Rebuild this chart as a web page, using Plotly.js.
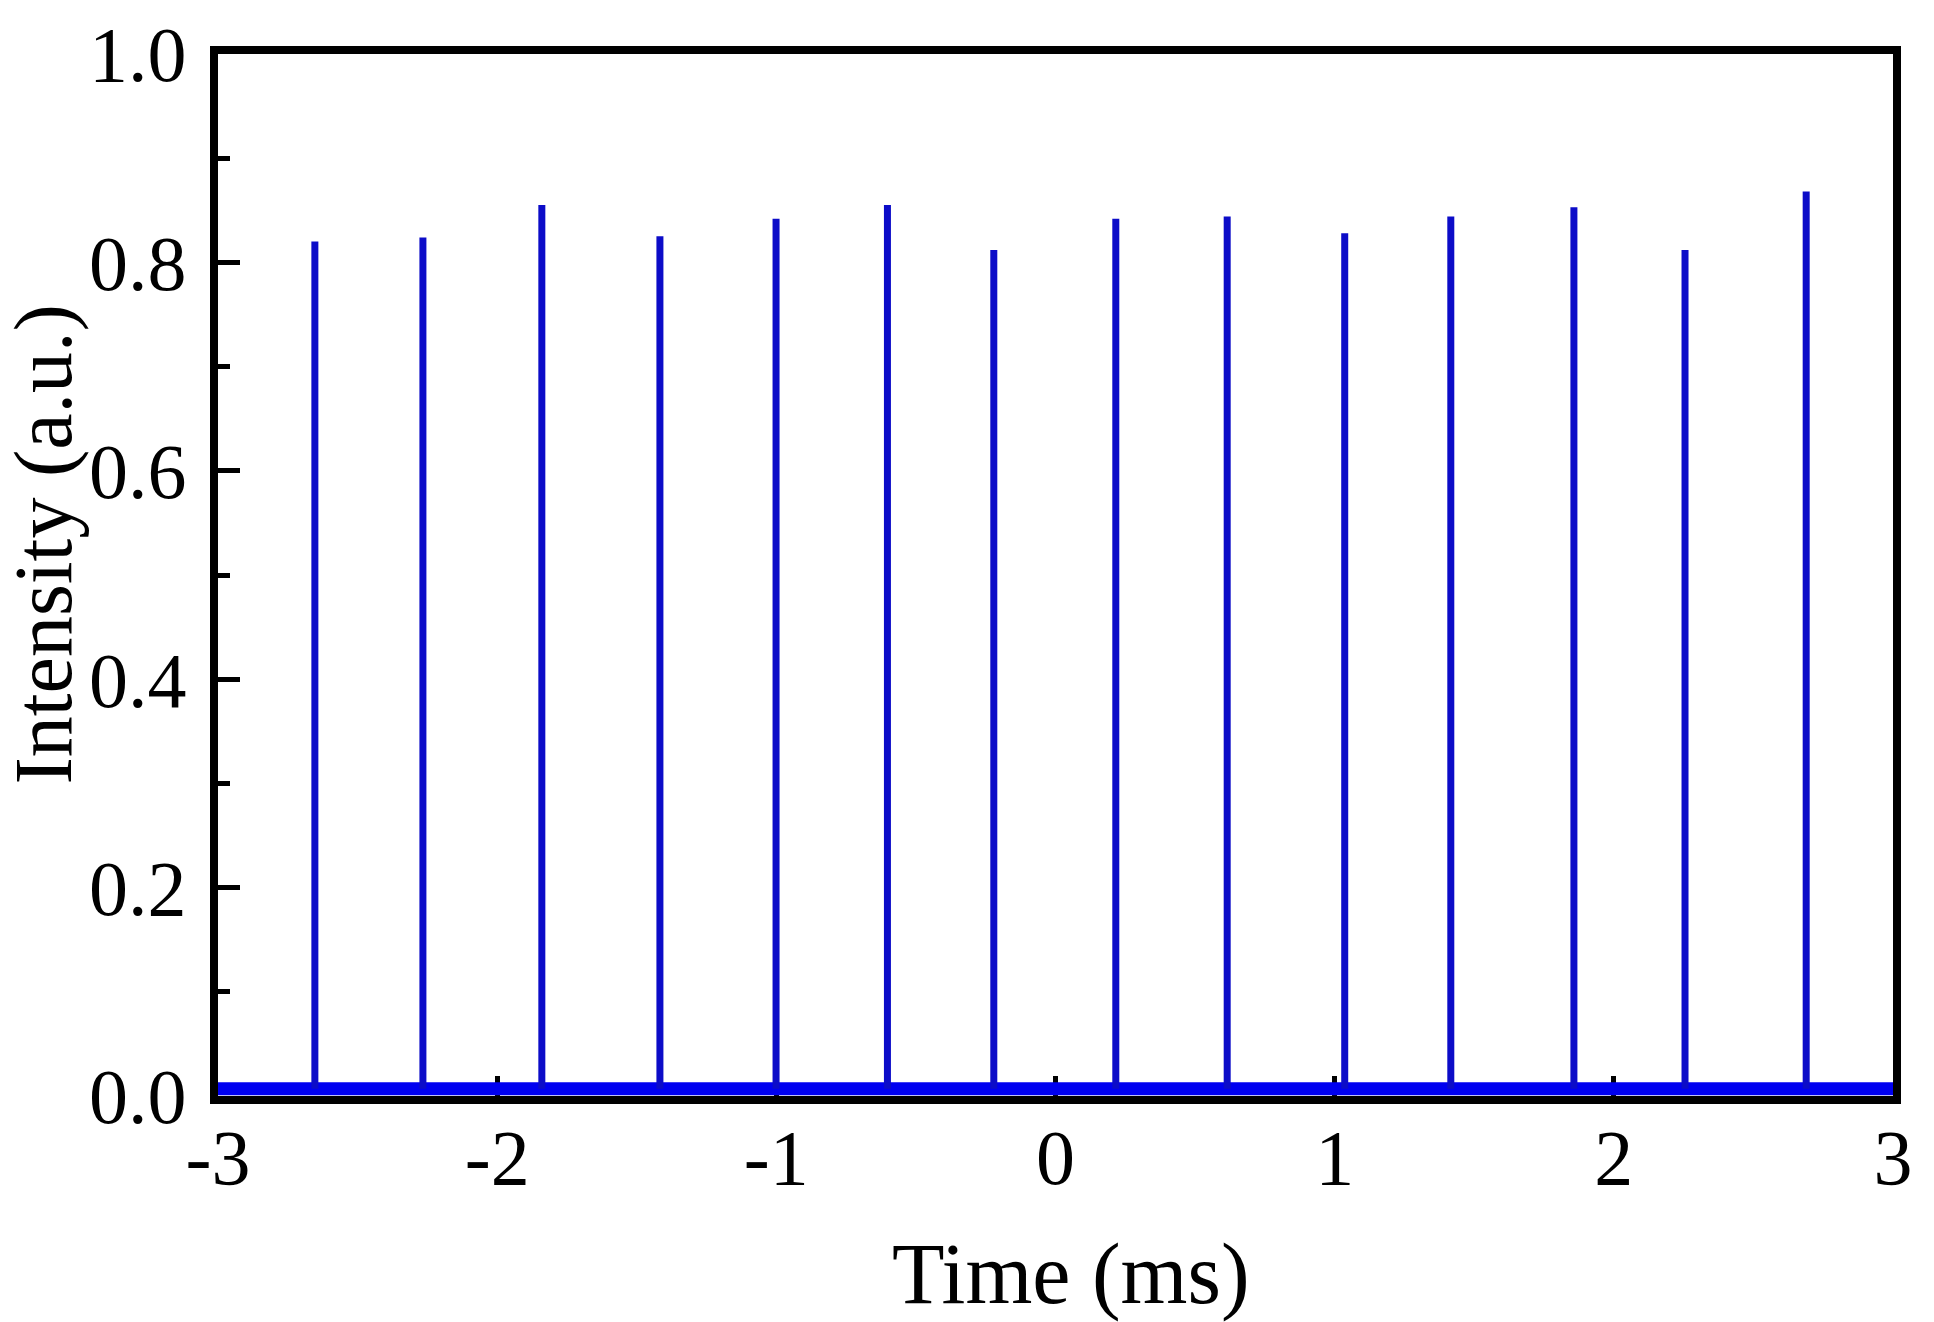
<!DOCTYPE html>
<html>
<head>
<meta charset="utf-8">
<script src="https://cdn.plot.ly/plotly-3.0.1.min.js"></script>
<style>
  html, body { margin: 0; padding: 0; background: #fff; }
  #chart { width: 1934px; height: 1322px; }
</style>
</head>
<body>
<div id="chart"></div>
<script>
// pulse train (time in ms, intensity in a.u.)
const pulseTimes = [-2.653, -2.266, -1.840, -1.417, -1.001, -0.602, -0.221,
                    0.216, 0.615, 1.036, 1.416, 1.857, 2.255, 2.689];
const pulseHeights = [0.820, 0.824, 0.855, 0.825, 0.842, 0.855, 0.812,
                      0.842, 0.844, 0.828, 0.844, 0.853, 0.812, 0.868];
const baseLevel = 0.007;
const timeRange = [-3, 3];
const xTickVals = [-3, -2, -1, 0, 1, 2, 3];
const xTickText = ['-3', '-2', '-1', '0', '1', '2', '3'];
const yTickVals = [0, 0.2, 0.4, 0.6, 0.8, 1.0];
const yTickText = ['0.0', '0.2', '0.4', '0.6', '0.8', '1.0'];
const xTitle = 'Time (ms)';
const yTitle = 'Intensity (a.u.)';

// each pulse is a vertical stroke from the baseline to its peak
const spikeX = [];
const spikeY = [];
pulseTimes.forEach((t, i) => {
    spikeX.push(t, t, null);
    spikeY.push(baseLevel, pulseHeights[i], null);
});

const baseline = {
    x: timeRange,
    y: [baseLevel, baseLevel],
    mode: 'lines',
    line: { color: '#0000f0', width: 13 },
    hoverinfo: 'skip',
    showlegend: false
};

const spikes = {
    x: spikeX,
    y: spikeY,
    mode: 'lines',
    line: { color: '#0c0cc8', width: 7 },
    connectgaps: false,
    showlegend: false
};

const family = '"Liberation Serif", "Times New Roman", serif';
const tickFont = { family: family, size: 78, color: '#000' };
const titleFont = { family: family, size: 86, color: '#000' };

const layout = {
    width: 1934,
    height: 1322,
    margin: { l: 218, r: 41, t: 54, b: 226 },
    paper_bgcolor: '#fff',
    plot_bgcolor: '#fff',
    font: { family: family, color: '#000' },
    showlegend: false,
    xaxis: {
        range: timeRange,
        tickvals: xTickVals,
        ticktext: xTickText,
        ticks: 'inside',
        ticklen: 20,
        tickwidth: 5,
        tickcolor: '#000',
        ticklabelstandoff: -14,
        tickfont: tickFont,
        showline: true,
        linewidth: 8,
        linecolor: '#000',
        mirror: true,
        showgrid: false,
        zeroline: false,
        layer: 'below traces'
    },
    yaxis: {
        range: [0, 1],
        tickvals: yTickVals,
        ticktext: yTickText,
        ticks: 'inside',
        ticklen: 22,
        tickwidth: 5,
        tickcolor: '#000',
        ticklabelstandoff: 8,
        tickfont: tickFont,
        minor: { dtick: 0.1, ticks: 'inside', ticklen: 12, tickwidth: 5, tickcolor: '#000', showgrid: false },
        showline: true,
        linewidth: 8,
        linecolor: '#000',
        mirror: true,
        showgrid: false,
        zeroline: false,
        layer: 'below traces'
    },
    annotations: [
        {
            text: xTitle, xref: 'paper', yref: 'paper', x: 0.509, y: -0.171,
            xanchor: 'center', yanchor: 'middle', showarrow: false, font: titleFont
        },
        {
            text: yTitle, xref: 'paper', yref: 'paper', x: -0.104, y: 0.529,
            xanchor: 'center', yanchor: 'middle', textangle: -90, showarrow: false,
            borderpad: 0,
            font: { family: family, size: 82, color: '#000' }
        }
    ]
};

Plotly.newPlot('chart', [baseline, spikes], layout, { staticPlot: true });
</script>
</body>
</html>
